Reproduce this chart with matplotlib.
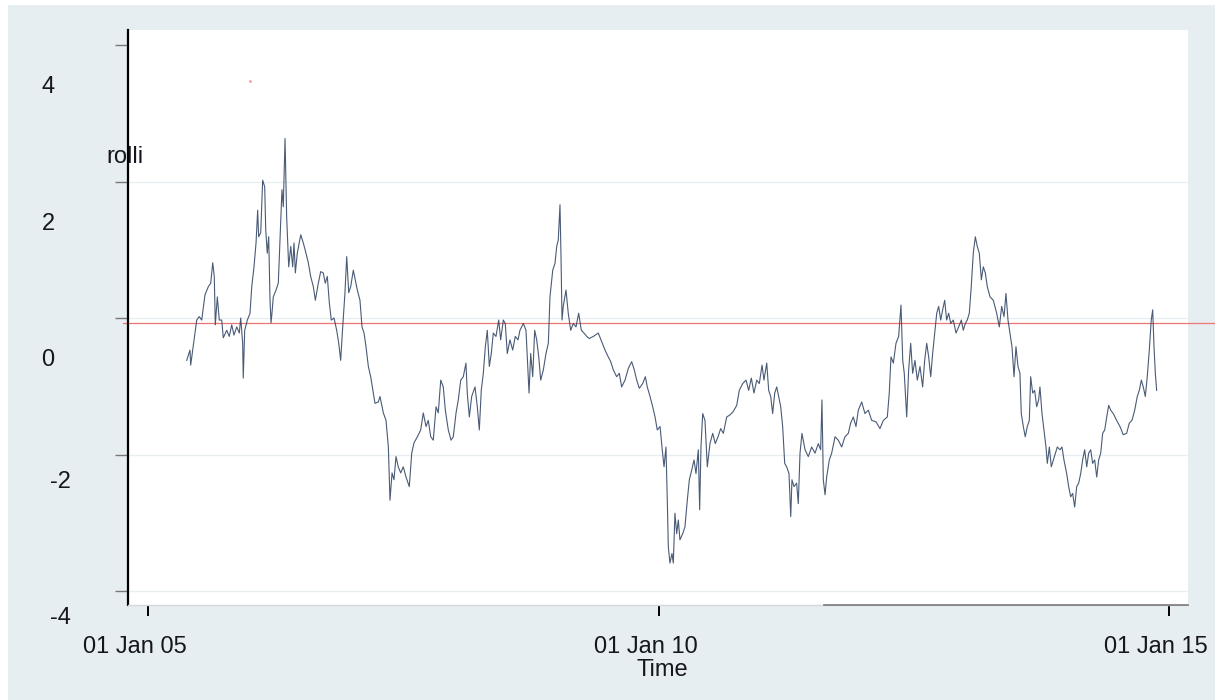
import numpy as np
import matplotlib
matplotlib.use("Agg")
import matplotlib.pyplot as plt
import matplotlib.transforms as mtransforms
from matplotlib.patches import Rectangle

# --- datos (fecha en años decimales, valor de rolli) ---
fecha = [
    2005.379, 2005.411, 2005.418, 2005.438, 2005.460, 2005.477, 2005.502, 2005.526, 2005.558, 2005.591,
    2005.614, 2005.634, 2005.649, 2005.659, 2005.679, 2005.698, 2005.722, 2005.737, 2005.771, 2005.796,
    2005.820, 2005.842, 2005.869, 2005.894, 2005.908, 2005.927, 2005.933, 2005.947, 2005.973, 2005.999,
    2006.016, 2006.038, 2006.058, 2006.074, 2006.084, 2006.104, 2006.123, 2006.143, 2006.153, 2006.168,
    2006.182, 2006.195, 2006.205, 2006.214, 2006.227, 2006.254, 2006.276, 2006.293, 2006.312, 2006.325,
    2006.342, 2006.358, 2006.378, 2006.398, 2006.417, 2006.430, 2006.443, 2006.462, 2006.496, 2006.521,
    2006.547, 2006.570, 2006.593, 2006.619, 2006.639, 2006.668, 2006.691, 2006.717, 2006.736, 2006.756,
    2006.776, 2006.795, 2006.822, 2006.848, 2006.868, 2006.887, 2006.907, 2006.929, 2006.946, 2006.966,
    2006.985, 2007.011, 2007.030, 2007.050, 2007.076, 2007.096, 2007.116, 2007.135, 2007.158, 2007.181,
    2007.207, 2007.223, 2007.256, 2007.272, 2007.305, 2007.331, 2007.354, 2007.370, 2007.390, 2007.409,
    2007.429, 2007.451, 2007.475, 2007.500, 2007.527, 2007.559, 2007.583, 2007.605, 2007.638, 2007.671,
    2007.696, 2007.723, 2007.745, 2007.769, 2007.794, 2007.821, 2007.843, 2007.867, 2007.892, 2007.912,
    2007.941, 2007.968, 2007.990, 2008.017, 2008.039, 2008.063, 2008.088, 2008.114, 2008.127, 2008.147,
    2008.170, 2008.203, 2008.225, 2008.245, 2008.264, 2008.284, 2008.304, 2008.323, 2008.343, 2008.362,
    2008.382, 2008.408, 2008.435, 2008.454, 2008.480, 2008.499, 2008.519, 2008.545, 2008.572, 2008.597,
    2008.624, 2008.643, 2008.676, 2008.702, 2008.719, 2008.732, 2008.748, 2008.768, 2008.787, 2008.807,
    2008.827, 2008.846, 2008.872, 2008.898, 2008.921, 2008.937, 2008.964, 2008.986, 2009.003, 2009.018,
    2009.035, 2009.045, 2009.055, 2009.067, 2009.094, 2009.116, 2009.140, 2009.165, 2009.192, 2009.218,
    2009.244, 2009.270, 2009.297, 2009.322, 2009.361, 2009.410, 2009.444, 2009.476, 2009.508, 2009.532,
    2009.557, 2009.590, 2009.616, 2009.639, 2009.672, 2009.704, 2009.737, 2009.763, 2009.786, 2009.812,
    2009.845, 2009.871, 2009.890, 2009.917, 2009.943, 2009.966, 2009.988, 2010.015, 2010.034, 2010.054,
    2010.073, 2010.086, 2010.096, 2010.112, 2010.132, 2010.145, 2010.161, 2010.178, 2010.194, 2010.210,
    2010.237, 2010.259, 2010.282, 2010.302, 2010.325, 2010.348, 2010.367, 2010.390, 2010.403, 2010.416,
    2010.433, 2010.455, 2010.478, 2010.504, 2010.531, 2010.556, 2010.583, 2010.609, 2010.635, 2010.668,
    2010.700, 2010.732, 2010.766, 2010.791, 2010.825, 2010.857, 2010.883, 2010.909, 2010.935, 2010.962,
    2010.987, 2011.014, 2011.033, 2011.060, 2011.079, 2011.099, 2011.118, 2011.138, 2011.158, 2011.177,
    2011.197, 2011.216, 2011.236, 2011.255, 2011.278, 2011.295, 2011.307, 2011.327, 2011.353, 2011.369,
    2011.386, 2011.405, 2011.435, 2011.467, 2011.500, 2011.533, 2011.565, 2011.588, 2011.601, 2011.614,
    2011.631, 2011.647, 2011.673, 2011.696, 2011.729, 2011.761, 2011.794, 2011.826, 2011.859, 2011.882,
    2011.908, 2011.934, 2011.957, 2011.990, 2012.022, 2012.055, 2012.088, 2012.130, 2012.169, 2012.202,
    2012.241, 2012.260, 2012.277, 2012.300, 2012.326, 2012.352, 2012.375, 2012.392, 2012.407, 2012.431,
    2012.450, 2012.470, 2012.489, 2012.512, 2012.535, 2012.561, 2012.587, 2012.607, 2012.627, 2012.646,
    2012.666, 2012.685, 2012.705, 2012.725, 2012.744, 2012.764, 2012.783, 2012.803, 2012.822, 2012.842,
    2012.862, 2012.887, 2012.914, 2012.940, 2012.966, 2012.985, 2013.005, 2013.024, 2013.044, 2013.063,
    2013.083, 2013.103, 2013.122, 2013.142, 2013.162, 2013.181, 2013.201, 2013.220, 2013.247, 2013.279,
    2013.312, 2013.338, 2013.361, 2013.384, 2013.403, 2013.423, 2013.442, 2013.462, 2013.482, 2013.501,
    2013.521, 2013.540, 2013.553, 2013.573, 2013.592, 2013.612, 2013.632, 2013.645, 2013.665, 2013.684,
    2013.704, 2013.723, 2013.736, 2013.756, 2013.775, 2013.795, 2013.808, 2013.828, 2013.847, 2013.867,
    2013.886, 2013.906, 2013.932, 2013.952, 2013.971, 2013.998, 2014.017, 2014.037, 2014.056, 2014.076,
    2014.096, 2014.115, 2014.135, 2014.154, 2014.174, 2014.194, 2014.213, 2014.233, 2014.252, 2014.272,
    2014.292, 2014.311, 2014.331, 2014.350, 2014.370, 2014.390, 2014.409, 2014.429, 2014.454, 2014.487,
    2014.520, 2014.552, 2014.585, 2014.611, 2014.637, 2014.664, 2014.689, 2014.709, 2014.729, 2014.748,
    2014.768, 2014.787, 2014.807, 2014.826, 2014.840, 2014.853, 2014.866, 2014.879,
]

rolli = [
    -0.62, -0.47, -0.69, -0.47, -0.22, -0.03, 0.02, -0.03, 0.34, 0.46,
    0.51, 0.81, 0.61, -0.10, 0.31, -0.03, -0.03, -0.29, -0.18, -0.27,
    -0.10, -0.25, -0.13, -0.22, 0.00, -0.37, -0.88, -0.18, -0.03, 0.07,
    0.46, 0.75, 1.10, 1.58, 1.19, 1.25, 2.02, 1.92, 1.29, 0.95,
    1.19, 0.26, -0.07, 0.07, 0.31, 0.41, 0.51, 1.14, 1.88, 1.63,
    2.63, 1.48, 0.75, 1.05, 0.75, 1.10, 0.66, 0.95, 1.22, 1.10,
    0.95, 0.81, 0.61, 0.46, 0.26, 0.51, 0.68, 0.66, 0.51, 0.61,
    0.22, -0.03, 0.00, -0.18, -0.37, -0.62, -0.13, 0.37, 0.90, 0.37,
    0.46, 0.70, 0.56, 0.41, 0.26, -0.13, -0.22, -0.42, -0.71, -0.86,
    -1.10, -1.25, -1.23, -1.15, -1.39, -1.50, -1.89, -2.67, -2.27, -2.37,
    -2.03, -2.18, -2.27, -2.18, -2.33, -2.47, -1.98, -1.83, -1.74, -1.64,
    -1.39, -1.59, -1.50, -1.74, -1.79, -1.30, -1.39, -0.91, -1.01, -1.35,
    -1.64, -1.79, -1.74, -1.39, -1.20, -0.91, -0.86, -0.66, -1.10, -1.45,
    -1.15, -1.01, -1.30, -1.64, -1.06, -0.81, -0.42, -0.18, -0.71, -0.52,
    -0.22, -0.27, -0.03, -0.32, -0.03, -0.08, -0.52, -0.32, -0.47, -0.27,
    -0.32, -0.18, -0.08, -0.18, -0.71, -1.10, -0.52, -0.86, -0.18, -0.32,
    -0.57, -0.91, -0.76, -0.52, -0.37, 0.31, 0.70, 0.80, 1.05, 1.14,
    1.66, 0.90, -0.03, 0.17, 0.41, 0.07, -0.18, -0.08, -0.13, 0.07,
    -0.18, -0.22, -0.27, -0.30, -0.27, -0.22, -0.35, -0.47, -0.57, -0.64,
    -0.76, -0.86, -0.81, -1.01, -0.91, -0.74, -0.64, -0.76, -0.91, -1.03,
    -0.96, -0.86, -1.01, -1.15, -1.30, -1.45, -1.64, -1.59, -1.89, -2.18,
    -1.89, -2.67, -3.35, -3.59, -3.45, -3.59, -2.86, -3.16, -2.96, -3.25,
    -3.16, -3.06, -2.67, -2.37, -2.23, -2.08, -2.28, -1.93, -2.81, -1.89,
    -1.40, -1.50, -2.18, -1.84, -1.69, -1.84, -1.74, -1.62, -1.69, -1.45,
    -1.42, -1.37, -1.28, -1.06, -0.96, -0.91, -1.06, -0.88, -1.10, -0.91,
    -0.96, -0.69, -0.91, -0.66, -1.06, -1.15, -1.40, -1.10, -1.01, -1.15,
    -1.30, -1.59, -2.13, -2.18, -2.28, -2.91, -2.37, -2.47, -2.42, -2.72,
    -1.98, -1.69, -1.93, -2.03, -1.89, -1.98, -1.84, -1.93, -1.20, -2.37,
    -2.59, -2.33, -2.08, -1.98, -1.74, -1.79, -1.89, -1.74, -1.69, -1.54,
    -1.45, -1.59, -1.35, -1.23, -1.40, -1.35, -1.50, -1.52, -1.62, -1.50,
    -1.45, -1.10, -0.57, -0.66, -0.37, -0.27, 0.19, -0.62, -0.81, -1.45,
    -0.76, -0.37, -0.81, -0.62, -0.91, -0.71, -1.01, -0.62, -0.37, -0.57,
    -0.86, -0.52, -0.22, 0.07, 0.17, -0.03, 0.12, 0.26, -0.03, 0.07,
    -0.08, -0.03, -0.22, -0.13, -0.03, -0.18, -0.08, -0.03, 0.07, 0.46,
    0.95, 1.19, 1.05, 0.95, 0.56, 0.75, 0.66, 0.46, 0.31, 0.26,
    0.07, -0.13, 0.17, 0.02, 0.36, -0.03, -0.22, -0.42, -0.86, -0.42,
    -0.71, -0.81, -1.40, -1.59, -1.74, -1.59, -1.50, -0.86, -1.10, -1.06,
    -1.30, -1.20, -1.01, -1.40, -1.64, -1.89, -2.13, -1.89, -2.18, -2.08,
    -1.98, -1.89, -1.93, -1.89, -2.08, -2.28, -2.47, -2.62, -2.57, -2.77,
    -2.47, -2.42, -2.28, -2.08, -1.93, -2.18, -1.98, -1.93, -2.13, -2.08,
    -2.33, -2.08, -1.98, -1.69, -1.64, -1.45, -1.28, -1.35, -1.40, -1.50,
    -1.59, -1.71, -1.69, -1.54, -1.50, -1.35, -1.15, -1.06, -0.91, -1.01,
    -1.15, -0.86, -0.47, -0.03, 0.12, -0.42, -0.81, -1.06,
]

nivel_medio = -0.08          # linea roja horizontal
punto_suelto = (2006.0, 3.47)  # punto rojo aislado

yticks = [4, 2, 0, -2, -4]
grid_y = [2, 0, -2, -4]
xticks = [2005, 2010, 2015]
xticklabels = ["01 Jan 05", "01 Jan 10", "01 Jan 15"]

plt.rcParams['font.family'] = ['Liberation Sans', 'DejaVu Sans']
FS = 17
TXT = '#161620'

fig = plt.figure(figsize=(12.15, 7.0), dpi=100)
fig.patch.set_facecolor('white')
# fondo gris-azulado (con una franja blanca arriba y a la izquierda)
fig.add_artist(Rectangle((8 / 1215, 0), 1 - 8 / 1215, 1 - 5 / 700,
                         transform=fig.transFigure, facecolor='#e7eef1',
                         edgecolor='none', zorder=-10))

ax = fig.add_axes([128 / 1215, 1 - 605 / 700, 1060 / 1215, 575 / 700])
ax.set_facecolor('white')
ax.set_xlim(2004.804, 2015.186)
ax.set_ylim(-4.205, 4.22)

for g in grid_y:
    ax.axhline(g, color='#e9eff1', lw=1.0, zorder=1)

ax.plot(fecha, rolli, color='#2a3e5e', lw=0.8, alpha=0.85, zorder=3)
ax.axhline(nivel_medio, xmin=-0.005, xmax=1.025, color='#ef7474', lw=0.9,
           clip_on=False, zorder=2)
ax.plot([punto_suelto[0]], [punto_suelto[1]], marker='.', ms=2,
        color='#f4a0a0', zorder=2)

# ejes
for s in ['top', 'right']:
    ax.spines[s].set_visible(False)
ax.spines['left'].set_color('black')
ax.spines['left'].set_linewidth(1.6)
ax.spines['bottom'].set_color('#d4d8da')
ax.spines['bottom'].set_linewidth(1.0)
ax.plot([0.657, 1.0], [0, 0], transform=ax.transAxes, color='#7a7a7a',
        lw=1.2, clip_on=False, zorder=4)

# eje y: marcas con etiquetas desplazadas hacia abajo
ax.set_yticks(yticks)
ax.set_yticklabels([])
ax.tick_params(axis='y', length=9.5, width=1.0, color='#777777', pad=0)
base_y = mtransforms.blended_transform_factory(ax.transAxes, ax.transData)
for v in yticks:
    if v >= 0:
        dx, dy = -80, -42
    else:
        dx, dy = -68, -27
    off = mtransforms.ScaledTranslation(dx / 100, dy / 100, fig.dpi_scale_trans)
    ax.text(0, v, str(v), transform=base_y + off, ha='center', va='center',
            fontsize=FS, color=TXT)

ax.set_ylabel('rolli', rotation=0, fontsize=FS, color=TXT, ha='center', va='center')
ax.yaxis.set_label_coords(-0.003, (605 - 157) / 575)

# eje x: etiquetas algo a la izquierda de cada marca
ax.set_xticks(xticks)
ax.set_xticklabels([])
ax.tick_params(axis='x', length=8, width=1.4, color='black')
base_x = mtransforms.blended_transform_factory(ax.transData, ax.transAxes)
off_x = mtransforms.ScaledTranslation(-13 / 100, -42 / 100, fig.dpi_scale_trans)
for xv, lab in zip(xticks, xticklabels):
    ax.text(xv, 0, lab, transform=base_x + off_x, ha='center', va='center',
            fontsize=FS, color=TXT)

ax.set_xlabel('Time', fontsize=FS, color=TXT, ha='center', va='center')
ax.xaxis.set_label_coords((662 - 128) / 1060, -(670 - 605) / 575)

fig.savefig('out.png', dpi=100, facecolor=fig.get_facecolor())
